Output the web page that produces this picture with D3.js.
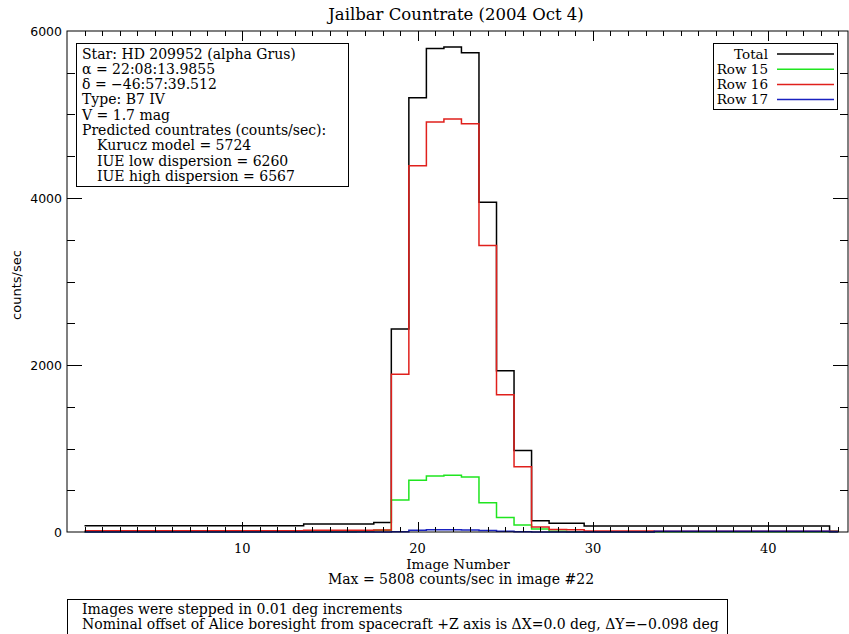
<!DOCTYPE html>
<html>
<head>
<meta charset="utf-8">
<script src="https://cdn.jsdelivr.net/npm/d3@7"></script>
<style>
  html, body { margin: 0; padding: 0; background: #fff; }
  svg { display: block; }
</style>
</head>
<body>
<script>
// Image numbers along the scan
const imageNumbers = [1,2,3,4,5,6,7,8,9,10,11,12,13,14,15,16,17,18,19,20,21,22,
                      23,24,25,26,27,28,29,30,31,32,33,34,35,36,37,38,39,40,41,42,43,44];

// Count rates (counts/sec) per image
const totalRate = [75,75,75,75,75,75,75,75,75,75,75,75,75,95,95,95,95,115,2430,5200,5790,5808,
                   5740,3950,1930,975,135,105,105,72,72,72,72,72,72,72,72,72,72,72,72,72,72,10];
const row15Rate = [2,2,2,2,2,2,2,2,2,2,2,2,2,2,2,2,10,20,383,620,670,680,
                   660,350,175,85,35,10,2,2,2,2,2,2,2,2,2,2,2,2,2,2,2,2];
const row16Rate = [15,15,15,15,15,15,15,15,15,15,15,15,15,20,20,20,20,25,1890,4385,4910,4945,
                   4890,3430,1645,780,60,30,28,12,12,12,12,8,8,8,8,8,8,8,8,8,8,5];
const row17Rate = [0,0,0,0,0,0,0,0,0,0,0,0,0,0,0,0,0,0,4,22,26,26,
                   24,18,8,2,0,0,0,0,0,0,0,8,8,8,8,8,8,8,8,8,8,4];

// Legend entries and colours
const seriesNames  = ["Total", "Row 15", "Row 16", "Row 17"];
const seriesColors = ["#000000", "#1fe51f", "#e0201c", "#1a22c0"];
const seriesData   = [totalRate, row15Rate, row16Rate, row17Rate];

// Axis ticks
const xMajorTicks = [10, 20, 30, 40];
const yMajorTicks = [0, 2000, 4000, 6000];

// Annotation text
const titleText = "Jailbar Countrate (2004 Oct 4)";
const xLabel = "Image Number";
const yLabel = "counts/sec";
const maxNote = "Max = 5808 counts/sec in image #22";
const infoLines = [
  {t: "Star: HD 209952 (alpha Grus)", indent: false},
  {t: "\u03b1 = 22:08:13.9855", indent: false},
  {t: "\u03b4 = \u221246:57:39.512", indent: false},
  {t: "Type: B7 IV", indent: false},
  {t: "V = 1.7 mag", indent: false},
  {t: "Predicted countrates (counts/sec):", indent: false},
  {t: "Kurucz model = 5724", indent: true},
  {t: "IUE low dispersion = 6260", indent: true},
  {t: "IUE high dispersion = 6567", indent: true}
];
const footLines = [
  "Images were stepped in 0.01 deg increments",
  "Nominal offset of Alice boresight from spacecraft +Z axis is \u0394X=0.0 deg, \u0394Y=\u22120.098 deg"
];

const W = 849, H = 634;
const plot = {left: 67, right: 848, top: 31, bottom: 532};
const serif = "'DejaVu Serif', 'Liberation Serif', serif";
const sans = "'DejaVu Sans', 'Liberation Sans', sans-serif";

const svg = d3.select("body").append("svg")
  .attr("width", W).attr("height", H)
  .attr("viewBox", `0 0 ${W} ${H}`);

const x = d3.scaleLinear().domain([0, 44.55]).range([plot.left, plot.right]);
const y = d3.scaleLinear().domain([0, 6000]).range([plot.bottom, plot.top]);

// Step traces (histogram mode), total first, rows drawn over it
const line = d3.line()
  .x(d => x(d[0]))
  .y(d => y(d[1]))
  .curve(d3.curveStep);

const traces = svg.append("g").attr("class", "traces");
seriesData.forEach((vals, i) => {
  traces.append("path")
    .datum(imageNumbers.map((n, k) => [n, vals[k]]))
    .attr("fill", "none")
    .attr("stroke", seriesColors[i])
    .attr("stroke-width", 1.5)
    .attr("stroke-linejoin", "miter")
    .attr("d", line);
});

// Frame and ticks on all four sides
const axes = svg.append("g").attr("class", "axes")
  .attr("stroke", "#000").attr("stroke-width", 1).attr("fill", "none");

axes.append("rect")
  .attr("x", plot.left).attr("y", plot.top)
  .attr("width", plot.right - plot.left).attr("height", plot.bottom - plot.top);

const xMinor = d3.range(1, 45).filter(v => v % 10 !== 0);
const yMinor = d3.range(500, 6000, 500).filter(v => v % 2000 !== 0);

function xTicks(vals, len) {
  vals.forEach(v => {
    const px = Math.round(x(v)) + 0.5;
    axes.append("line").attr("x1", px).attr("x2", px)
      .attr("y1", plot.bottom).attr("y2", plot.bottom - len);
    axes.append("line").attr("x1", px).attr("x2", px)
      .attr("y1", plot.top).attr("y2", plot.top + len);
  });
}
function yTicks(vals, len) {
  vals.forEach(v => {
    const py = Math.round(y(v)) + 0.5;
    axes.append("line").attr("y1", py).attr("y2", py)
      .attr("x1", plot.left).attr("x2", plot.left + len);
    axes.append("line").attr("y1", py).attr("y2", py)
      .attr("x1", plot.right).attr("x2", plot.right - len);
  });
}
xTicks(xMinor, 5);
xTicks(xMajorTicks, 10);
yTicks(yMinor, 8);
yTicks(yMajorTicks.filter(v => v > 0 && v < 6000), 15);

// Tick labels
svg.append("g").selectAll("text").data(xMajorTicks).join("text")
  .attr("x", d => x(d)).attr("y", 553)
  .attr("text-anchor", "middle")
  .attr("font-family", serif).attr("font-size", 13)
  .text(d => d);

svg.append("g").selectAll("text").data(yMajorTicks).join("text")
  .attr("x", 62).attr("y", d => y(d) + 4.5)
  .attr("text-anchor", "end")
  .attr("font-family", sans).attr("font-size", 12.5)
  .text(d => d);

// Title and axis titles
svg.append("text").attr("x", 456).attr("y", 20)
  .attr("text-anchor", "middle").attr("font-family", serif).attr("font-size", 16.5)
  .text(titleText);

svg.append("text").attr("x", 458).attr("y", 569)
  .attr("text-anchor", "middle").attr("font-family", serif).attr("font-size", 13.5)
  .text(xLabel);

svg.append("text").attr("x", 461).attr("y", 584)
  .attr("text-anchor", "middle").attr("font-family", serif).attr("font-size", 14)
  .text(maxNote);

svg.append("text")
  .attr("transform", "translate(21,285) rotate(-90)")
  .attr("text-anchor", "middle").attr("font-family", sans).attr("font-size", 13)
  .text(yLabel);

// Star information box
const info = svg.append("g");
info.append("rect").attr("x", 76.5).attr("y", 43.5).attr("width", 272).attr("height", 143)
  .attr("fill", "#fff").attr("stroke", "#000");
info.selectAll("text").data(infoLines).join("text")
  .attr("x", d => d.indent ? 97 : 82)
  .attr("y", (d, i) => 58.5 + i * 15.3)
  .attr("font-family", serif).attr("font-size", 14)
  .text(d => d.t);

// Legend
const legend = svg.append("g");
legend.append("rect").attr("x", 713.5).attr("y", 43.5).attr("width", 124).attr("height", 66)
  .attr("fill", "#fff").attr("stroke", "#000");
seriesNames.forEach((name, i) => {
  const ly = 54 + i * 15.2;
  legend.append("text").attr("x", 768).attr("y", ly + 4.5)
    .attr("text-anchor", "end").attr("font-family", serif).attr("font-size", 13.5)
    .text(name);
  legend.append("line").attr("x1", 777).attr("x2", 834).attr("y1", ly).attr("y2", ly)
    .attr("stroke", seriesColors[i]).attr("stroke-width", 1.5);
});

// Footnote box
const foot = svg.append("g");
foot.append("rect").attr("x", 67.5).attr("y", 599.5).attr("width", 660).attr("height", 40)
  .attr("fill", "none").attr("stroke", "#000");
foot.selectAll("text").data(footLines).join("text")
  .attr("x", 82).attr("y", (d, i) => 614 + i * 15.3)
  .attr("font-family", serif).attr("font-size", 14)
  .text(d => d);
</script>
</body>
</html>
